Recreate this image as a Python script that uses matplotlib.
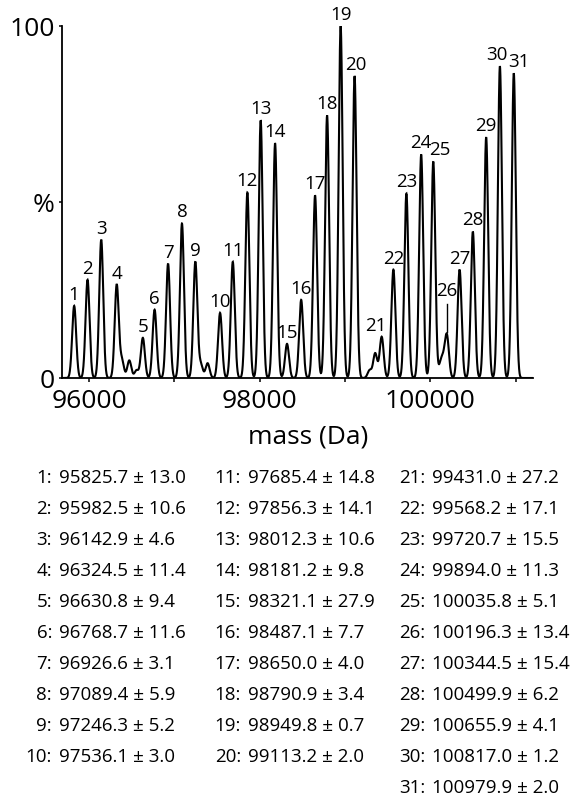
import numpy as np
import matplotlib
matplotlib.use("Agg")
import matplotlib.pyplot as plt

plt.rcParams['font.family'] = ['Open Sans', 'DejaVu Sans']

# ---- data ----
peak_ids = list(range(1, 32))
peak_mass = [95825.7, 95982.5, 96142.9, 96324.5, 96630.8, 96768.7, 96926.6, 97089.4,
             97246.3, 97536.1, 97685.4, 97856.3, 98012.3, 98181.2, 98321.1, 98487.1,
             98650.0, 98790.9, 98949.8, 99113.2, 99431.0, 99568.2, 99720.7, 99894.0,
             100035.8, 100196.3, 100344.5, 100499.9, 100655.9, 100817.0, 100979.9]
peak_err = [13.0, 10.6, 4.6, 11.4, 9.4, 11.6, 3.1, 5.9, 5.2, 3.0,
            14.8, 14.1, 10.6, 9.8, 27.9, 7.7, 4.0, 3.4, 0.7, 2.0,
            27.2, 17.1, 15.5, 11.3, 5.1, 13.4, 15.4, 6.2, 4.1, 1.2, 2.0]
peak_height = [20.5, 27.9, 39.3, 26.5, 11.4, 19.4, 32.5, 43.9, 33.0, 18.5,
               33.0, 52.7, 73.2, 66.7, 9.7, 22.2, 51.9, 74.6, 100.0, 85.8,
               11.7, 30.8, 52.4, 63.5, 61.5, 11.4, 30.8, 41.6, 68.4, 88.6, 86.6]
# minor unlabelled features of the spectrum
minor_mass = [96385, 96472, 96557, 97310, 97390, 99290, 99355, 100125, 100160]
minor_height = [5.0, 5.0, 2.2, 3.8, 4.2, 2.2, 7.0, 4.2, 3.5]

# label offsets (px) for a few labels
label_dx = {20: 1, 21: -6, 25: 7, 30: -3, 31: 5}

# ---- figure ----
W, H = 580, 802
fig = plt.figure(figsize=(W / 100, H / 100), dpi=100)
x0_px, x1_px = 62, 533
ybase_px, ytop_px = 378, 26
ax = fig.add_axes([x0_px / W, 1 - ybase_px / H, (x1_px - x0_px) / W, (ybase_px - ytop_px) / H])

xmin, xmax = 95683, 101205
mz = np.arange(xmin, xmax, 1.0)
sigma = 23.5
spec = np.zeros_like(mz)
for m, h in zip(peak_mass + minor_mass, peak_height + minor_height):
    spec += h * np.exp(-0.5 * ((mz - m) / sigma) ** 2)
ax.plot(mz, spec, color='black', lw=1.5, solid_joinstyle='miter')

ax.set_xlim(xmin, xmax)
ax.set_ylim(0, 100)
for s in ['top', 'right']:
    ax.spines[s].set_visible(False)
for s in ['left', 'bottom']:
    ax.spines[s].set_linewidth(1.3)

ax.set_xticks([96000, 98000, 100000])
ax.set_xticklabels(['96000', '98000', '100000'])
ax.set_xticks([97000, 99000, 101000], minor=True)
ax.tick_params(axis='x', which='both', direction='out', length=3, width=1.1,
               labelsize=19, pad=5)
ax.set_yticks([0, 50, 100])
ax.set_yticklabels(['0', '%', '100'])
ax.tick_params(axis='y', direction='out', length=2.2, width=1.1, labelsize=19, pad=3)
ax.set_xlabel('mass (Da)', fontsize=19)
ax.xaxis.set_label_coords((308 - x0_px) / (x1_px - x0_px), -(437 - ybase_px) / (ybase_px - ytop_px))
ax.xaxis.label.set_va('center')

for pid, m, h in zip(peak_ids, peak_mass, peak_height):
    dx = label_dx.get(pid, 0) * 0.72
    if pid == 26:
        ax.annotate(str(pid), xy=(m, h), xytext=(dx, 27), textcoords='offset points',
                    ha='center', va='bottom', fontsize=13.5, annotation_clip=False)
        ax.plot([m, m], [h + 1.8, h + 9.5], color='black', lw=1.0, clip_on=False)
    else:
        ax.annotate(str(pid), xy=(m, h), xytext=(dx, 1.5), textcoords='offset points',
                    ha='center', va='bottom', fontsize=13.5, annotation_clip=False)

# ---- table of masses ----
col_label_right = [52, 241, 425]
col_value_left = [59, 248, 432]
col_rows = [range(0, 10), range(10, 20), range(20, 31)]
for c, rows in enumerate(col_rows):
    for r, i in enumerate(rows):
        yb = 1 - (483 + 31.0 * r) / H
        fig.text(col_label_right[c] / W, yb, f"{peak_ids[i]}:", ha='right', va='baseline', fontsize=13.5)
        fig.text(col_value_left[c] / W, yb, f"{peak_mass[i]:.1f} \u00b1 {peak_err[i]:.1f}",
                 ha='left', va='baseline', fontsize=13.5)

fig.savefig('out.png', dpi=100)
